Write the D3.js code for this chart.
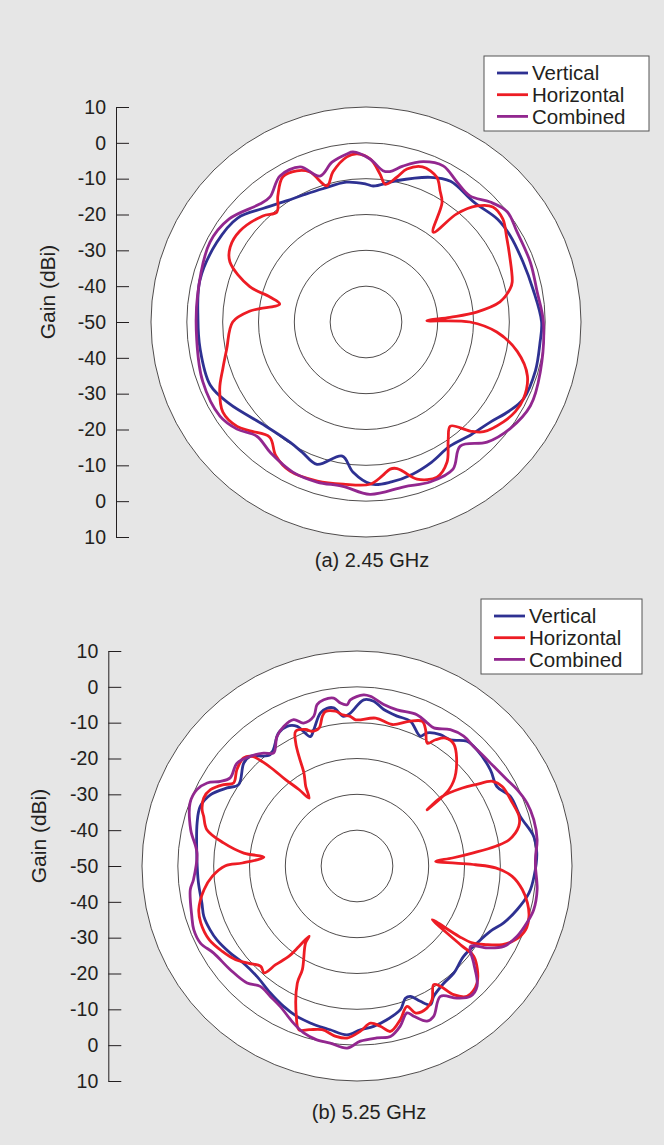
<!DOCTYPE html>
<html>
<head>
<meta charset="UTF-8">
<title>Radiation patterns 2.45 / 5.25 GHz</title>
<style>
  body { margin: 0; background: #e6e6e6; }
  svg { display: block; font-family: "Liberation Sans", Arial, sans-serif; }
</style>
</head>
<body>
<svg></svg>
<script src="https://d3js.org/d3.v7.min.js"></script>
<script>

const width = 664, height = 1145;

// ---- data (angle in degrees clockwise from top, gain in dBi) ----
const seriesNames = ["Vertical", "Horizontal", "Combined"];
const ringLevels = [-40, -30, -20, -10, 0, 10];
const axisTicks = [60, 50, 40, 30, 20, 10, 0, -10, -20, -30, -40, -50, -60]; // signed distance from centre, in dB
const captions = ["(a) 2.45 GHz", "(b) 5.25 GHz"];

// (a) 2.45 GHz
const aVertAngle = [0, 3, 12, 24, 31, 42, 52, 59, 69, 79, 90, 97, 106, 116, 122, 129, 137, 146, 155, 163, 171, 178, 185, 190, 199, 206, 212, 225, 239, 248, 261, 271, 284, 298, 309, 318, 327, 334, 342, 352];
const aVertGain  = [-11.5, -12, -9.7, -5.8, -4.2, -5, -3.4, -3.1, -3.1, -2.5, -1, -1.1, -0.8, -1.1, -3, -5.5, -7, -8.2, -6.8, -5.6, -4.8, -4.7, -8, -12, -8, -9.5, -10.3, -9.5, -5.6, -3.1, -3.1, -3.1, -2.2, -2.8, -3.9, -7.3, -9.6, -10.5, -10.9, -10.6];

const aHorzAngle = [357, 1.5, 5.4, 8, 12, 15, 20, 26, 29.5, 32.5, 36.8, 40, 43.7, 47.8, 53, 59, 65, 74.7, 77, 81.5, 84.9, 86.8, 88.8, 90, 94.4, 101, 108.5, 116, 121, 126, 133, 136.3, 141, 145, 150, 155.4, 162, 166, 168, 170.7, 174, 178.6, 188, 197, 207, 214, 219.9, 226.8, 231, 237.8, 245.4, 252, 259, 270, 275.4, 281.8, 284.6, 287, 293.8, 298.9, 305.8, 315.8, 321, 325, 330.2, 335.4, 339.5, 344, 347.6, 353.4];
const aHorzGain  = [-3, -4.5, -8.5, -11.2, -8.7, -5.8, -3.9, -5, -8, -10.5, -18.7, -10.6, -5.2, -2.2, -2.2, -4.2, -5.8, -7.7, -8.7, -12.2, -19, -26.5, -33, -21, -13.4, -7, -2.5, -1.1, -1.4, -2.6, -5.1, -7.9, -12.6, -10, -4.8, -2.4, -3.9, -7, -8.2, -8.4, -6.8, -4.7, -4.3, -3.6, -3.3, -5, -8.1, -5.6, -3.7, -2.8, -5.1, -8, -10.4, -12.8, -17.5, -25.4, -22.3, -16, -8.5, -6.7, -6.6, -8.7, -10.5, -7.1, -3.3, -3.6, -5.3, -10.5, -7.1, -3.6];

const aCombAngle = [1.4, 6.4, 9, 13.3, 19.6, 26.3, 33, 39.5, 46, 52, 59, 70, 80, 90, 106, 117, 126.6, 134.8, 142.8, 149.4, 158, 167, 178.7, 188, 197, 206, 216, 223.7, 230.3, 237.2, 250, 264, 279, 297, 307, 318, 322.5, 329.5, 337, 342.5, 348, 353.5, 355.6];
const aCombGain  = [-4.5, -7.5, -7.5, -5.3, -2.5, -1.4, -3.4, -4.4, -1.8, 0, -0.9, -1.2, -1.5, -0.5, 0.6, 1.5, 0, -2.4, -6.5, -2.3, -1.9, -2.8, -1.9, -3.7, -3.3, -3.4, -4.8, -5.9, -3.2, -1.5, -1.5, -2.5, -2.4, -1.1, -2.2, -5.7, -6, -2.7, -3, -7.3, -4.4, -2.8, -2.4];

// (b) 5.25 GHz
const bVertAngle = [2.3, 5.8, 9.7, 15, 20.2, 26, 27.8, 32.4, 36.5, 41.4, 45.9, 54.2, 60.4, 65.6, 73.1, 80.5, 85.9, 93.3, 98.9, 105.3, 111.2, 116.1, 122.7, 130.3, 137.9, 143.5, 149.5, 152.1, 154.9, 157.7, 159.9, 163.2, 169, 174.1, 178.8, 183.4, 189.3, 191.6, 196.6, 201.8, 207.6, 214.3, 222.2, 229.4, 235.5, 242.2, 246.5, 251.8, 256.6, 263.9, 272.3, 285, 290.8, 295.9, 301, 304.5, 312.3, 315.8, 322.1, 329.5, 333.4, 336.8, 340.2, 342.4, 346.5, 349.2, 351.6, 354.9, 357.5];
const bVertGain  = [-3.6, -3.8, -5.7, -6.7, -6.9, -9.7, -8, -6.6, -6.2, -3.6, -3.4, -4.1, -5.1, -3, -2.4, 0, 0.3, -0.5, -1.4, -3.7, -6.1, -8.6, -10.2, -11, -9.7, -9.3, -7.8, -6.2, -8.3, -10.7, -10.7, -8.1, -6.3, -5, -4.3, -2.8, -3.7, -3.9, -4.3, -4.8, -5.8, -7.1, -8.4, -8.3, -7.1, -5.8, -5.3, -5, -5.5, -5.5, -5.3, -3.8, -3.2, -4.5, -7.7, -9.9, -7.3, -7.3, -10.6, -6.9, -6.4, -7.6, -11.6, -10.1, -6.1, -5.2, -5.4, -8.1, -7.3];

const bHorzAngle = [357.4, 359.5, 7.2, 14, 19.8, 24.3, 26.7, 29.8, 31.9, 34.7, 38.6, 46.7, 50.3, 51.3, 50.8, 53.5, 55.6, 58, 61.3, 67.9, 73, 76.2, 80.2, 81.9, 83.6, 85.2, 86.6, 88.3, 89.4, 90.8, 93.8, 98.1, 102.3, 106.3, 110.7, 114.9, 118.4, 121.4, 123.7, 124.6, 125.5, 127.3, 127.7, 134.3, 139.8, 143.1, 145.3, 147.1, 150.7, 153.8, 158.2, 160.4, 164.3, 168.6, 171.7, 175.1, 178.8, 183.3, 187.1, 192, 196.3, 199.5, 202, 207, 207.8, 213.7, 214.3, 215.8, 217, 219.5, 221, 223.8, 228, 232.3, 237.6, 243.5, 250, 254.6, 261.2, 265.9, 270.1, 271.5, 275.5, 276.5, 279.8, 283.6, 288, 290, 293.9, 297.5, 301.4, 303.9, 308.8, 313.6, 316.3, 318.6, 320.4, 322.8, 324.8, 327.2, 330.3, 332.1, 333.5, 335.5, 339.4, 341.6, 344.6, 347, 348.5, 352.1, 354.5];
const bHorzGain  = [-8.2, -9.2, -8.4, -9.3, -7.1, -5.7, -7.4, -10.5, -8.5, -6.6, -6.6, -12.1, -16.6, -24.9, -19.3, -13.4, -9.8, -5.4, -3.8, -3.2, -2.7, -3.5, -6.9, -10.9, -17.6, -23.3, -28, -22.5, -16.9, -11.3, -6.6, -3.4, -1.3, 0, 0.3, -1.2, -3.9, -7.9, -11.3, -15.4, -24.2, -13.1, -8.8, -3.2, -2.4, -5.1, -9.2, -10.6, -7.2, -5.8, -5.8, -8.4, -5.4, -2.9, -4.8, -6, -3.9, -1.9, -2.1, -3.3, -2.4, -1.5, -4.8, -13.3, -17.3, -24.1, -26.3, -22.4, -18.5, -14.3, -10.5, -11.2, -9.4, -7.2, -5.5, -3.9, -3.6, -4.2, -6.8, -9.5, -13.3, -18, -23.9, -18.2, -12.2, -6.9, -5, -4, -3.2, -3.9, -6.4, -8.5, -7, -6.3, -7.7, -12.9, -18.7, -23.2, -26.8, -23.6, -20.1, -15.4, -11.7, -8.7, -9.3, -10.4, -10.1, -7.1, -6, -6.4, -7.6];

const bCombAngle = [2.2, 4.5, 9.4, 14.4, 21.6, 26.1, 29.1, 34.4, 39.4, 44.3, 49.1, 53.9, 60.1, 64.5, 69.7, 75.3, 81.7, 86.9, 90.1, 97.5, 103.9, 108.5, 113.7, 118.7, 122.2, 125.3, 129.7, 135, 139, 142.9, 147.4, 153, 155.7, 159.3, 161.2, 164.9, 168.9, 173.4, 178.9, 183.1, 188.6, 193, 197.7, 202, 208.6, 213.6, 218.8, 223.2, 230.7, 238.7, 243.8, 248.7, 253, 261.9, 265.2, 274.6, 282.3, 290.7, 295.5, 299, 301.8, 304.8, 310.6, 315.8, 320.4, 323.6, 328.3, 332.3, 336.6, 339.5, 343.9, 346.1, 348.7, 352.1, 354.2, 356.5, 357.7];
const bCombGain  = [-2.2, -2.5, -4.3, -5, -4.6, -5.5, -5.9, -3.9, -3.1, -3.4, -3.2, -2.8, -1.7, -0.5, 0.6, 1, 0.8, -0.1, -0.2, 0.7, 0.8, 0, -1.2, -3.3, -7.1, -11.2, -7.7, -2.6, -1.8, -3.8, -6.8, -2.9, -2.5, -5.2, -6.7, -3.7, -1.5, -1.7, -1.1, 0.9, 0, -0.2, -1.1, -2.7, -5.3, -6.3, -6.9, -5.2, -4.3, -3.2, -1.3, -1.1, -1.8, -3, -4.2, -5.2, -2.5, -0.2, -0.5, -2.2, -5.2, -6.9, -5.9, -7.3, -9.1, -10.8, -7.5, -6, -5.5, -7.4, -6.5, -3.6, -2.7, -2.7, -4.3, -4.9, -3.6];

const seriesColors = ["#2e3192", "#ed1c24", "#92278f"];

// ---- layout ----
const charts = [
  { cx: 366, cy: 322, axisX: 116, labelX: 54.5, labelY: 292, capX: 372, capY: 567,
    legend: [484, 56, 165, 75],
    series: [[aVertAngle, aVertGain], [aHorzAngle, aHorzGain], [aCombAngle, aCombGain]] },
  { cx: 357, cy: 866, axisX: 108.3, labelX: 46, labelY: 836, capX: 369, capY: 1119,
    legend: [481, 599, 161, 75],
    series: [[bVertAngle, bVertGain], [bHorzAngle, bHorzGain], [bCombAngle, bCombGain]] }
];

const outerR = 215;
const r = d3.scaleLinear().domain([-50, 10]).range([0, outerR]);

let svg = d3.select("svg")
    .attr("width", width)
    .attr("height", height)
    .attr("viewBox", "0 0 " + width + " " + height);

svg.append("rect").attr("width", width).attr("height", height).attr("fill", "#e6e6e6");

// draw order: vertical, horizontal, combined on top
let drawOrder = [0, 1, 2];

charts.forEach((c, ci) => {
  let g = svg.append("g");

  // rings
  g.selectAll("circle.ring")
    .data(ringLevels.slice().reverse())
    .enter()
    .append("circle")
      .attr("class", "ring")
      .attr("cx", c.cx)
      .attr("cy", c.cy)
      .attr("r", d => r(d))
      .attr("fill", (d, i) => i == 0 ? "white" : "none")
      .attr("stroke", "#231f20")
      .attr("stroke-width", 0.8);

  // traces
  let line = d3.lineRadial()
    .angle(d => d[0] * Math.PI / 180)
    .radius(d => r(d[1]))
    .curve(d3.curveCatmullRomClosed.alpha(0.5));

  drawOrder.forEach(si => {
    let s = c.series[si];
    let pts = s[0].map((a, i) => [a, s[1][i]]);
    g.append("path")
      .attr("transform", "translate(" + c.cx + "," + c.cy + ")")
      .attr("d", line(pts))
      .attr("fill", "none")
      .attr("stroke", seriesColors[si])
      .attr("stroke-width", 2.8)
      .attr("stroke-linejoin", "round");
  });

  // gain axis: ticks to the right, labels to the left
  let y = d3.scaleLinear().domain([-60, 60]).range([c.cy + outerR, c.cy - outerR]);
  let axis = d3.axisLeft(y)
    .tickValues(axisTicks)
    .tickSizeInner(-13)
    .tickSizeOuter(0)
    .tickPadding(10)
    .tickFormat(d => String(Math.abs(d) - 50));

  let ax = g.append("g")
    .attr("transform", "translate(" + c.axisX + ",0)")
    .call(axis);
  ax.select(".domain").attr("stroke", "#231f20").attr("stroke-width", 1);
  ax.selectAll(".tick line").attr("stroke", "#231f20").attr("stroke-width", 1);
  ax.selectAll(".tick text")
    .attr("fill", "#231f20")
    .style("font-size", "19.5px")
    .style("font-family", "'Liberation Sans', Arial, sans-serif");

  g.append("text")
    .attr("transform", "translate(" + c.labelX + "," + c.labelY + ") rotate(-90)")
    .attr("text-anchor", "middle")
    .attr("fill", "#231f20")
    .style("font-size", "21px")
    .text("Gain (dBi)");

  // caption
  g.append("text")
    .attr("x", c.capX)
    .attr("y", c.capY)
    .attr("text-anchor", "middle")
    .attr("fill", "#231f20")
    .style("font-size", "20px")
    .text(captions[ci]);

  // legend
  let [lx, ly, lw, lh] = c.legend;
  let lg = g.append("g").attr("transform", "translate(" + lx + "," + ly + ")");
  lg.append("rect")
    .attr("width", lw).attr("height", lh)
    .attr("fill", "white")
    .attr("stroke", "#555").attr("stroke-width", 1);
  seriesNames.forEach((name, i) => {
    let yy = 17 + i * 21.7;
    lg.append("line")
      .attr("x1", 13).attr("x2", 44)
      .attr("y1", yy).attr("y2", yy)
      .attr("stroke", seriesColors[i])
      .attr("stroke-width", 2.8);
    lg.append("text")
      .attr("x", 48)
      .attr("y", yy)
      .attr("dy", "0.35em")
      .attr("fill", "#231f20")
      .style("font-size", "20.5px")
      .text(name);
  });
});

</script>
</body>
</html>
